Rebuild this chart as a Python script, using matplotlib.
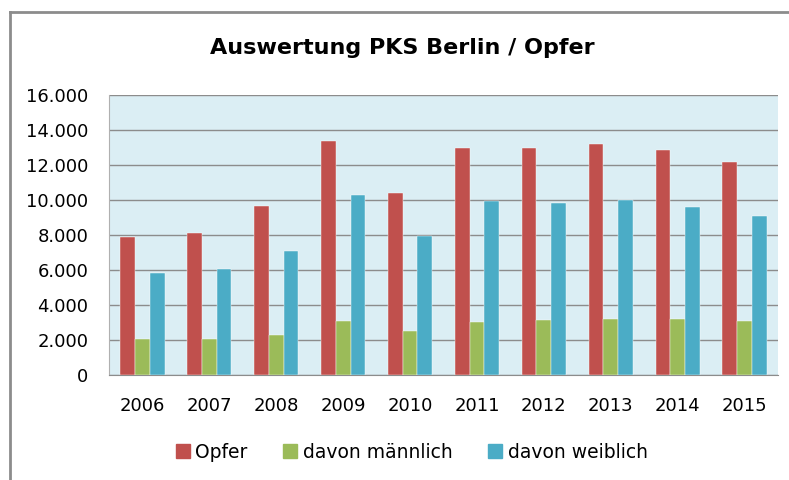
import numpy as np
import matplotlib
matplotlib.use("Agg")
import matplotlib.pyplot as plt
from matplotlib.ticker import FuncFormatter
from matplotlib.patches import Rectangle
from matplotlib.lines import Line2D

# data
years = ["2006", "2007", "2008", "2009", "2010", "2011", "2012", "2013", "2014", "2015"]
opfer = [7870, 8100, 9680, 13350, 10400, 12950, 12950, 13200, 12840, 12170]
maennlich = [2060, 2080, 2300, 3100, 2490, 3030, 3160, 3220, 3220, 3100]
weiblich = [5810, 6040, 7090, 10290, 7920, 9920, 9810, 10020, 9620, 9090]

series_names = ["Opfer", "davon männlich", "davon weiblich"]
colors = ["#C0504D", "#9BBB59", "#4BACC6"]

plt.rcParams['font.family'] = ['DejaVu Sans']

fig = plt.figure(figsize=(7.89, 4.8), dpi=100)
ax = fig.add_axes([109 / 789, 105 / 480, 669 / 789, 280 / 480])

x = np.arange(len(years))
w = 0.22
for i, (vals, name, col) in enumerate(zip([opfer, maennlich, weiblich], series_names, colors)):
    ax.bar(x + (i - 1) * w, vals, width=w, color=col, label=name, zorder=3,
           edgecolor="white", linewidth=0.3)

ax.set_facecolor("#DBEEF4")
ax.set_xlim(-0.5, len(years) - 0.5)
ax.set_ylim(0, 16000)
ax.set_yticks(np.arange(0, 16001, 2000))
ax.yaxis.set_major_formatter(FuncFormatter(lambda v, p: f"{int(v):,}".replace(",", ".")))
ax.set_xticks(x)
ax.set_xticklabels(years)
ax.grid(axis="y", color="#8C8C8C", linewidth=1.0, zorder=1)
ax.tick_params(length=0, labelsize=13)
ax.tick_params(axis="y", pad=15)
ax.tick_params(axis="x", pad=16)

for s in ["top", "right"]:
    ax.spines[s].set_visible(False)
ax.spines["left"].set_color("#B0B0B0")
ax.spines["bottom"].set_color("#8C8C8C")

fig.text(0.51, 0.9, "Auswertung PKS Berlin / Opfer", ha="center", va="center",
         fontsize=16, fontweight="bold")

handles = [Rectangle((0, 0), 1, 1, color=c) for c in colors]
fig.legend(handles, series_names, loc="center", bbox_to_anchor=(0.522, 0.058),
           ncol=3, frameon=False, fontsize=13.5, handlelength=0.75, handleheight=0.75,
           handletextpad=0.3, columnspacing=1.9)

# outer chart border (left and top edges visible)
fig.add_artist(Line2D([9.5 / 789, 9.5 / 789], [0, 1 - 12 / 480], transform=fig.transFigure,
                      color="#8C8C8C", linewidth=2))
fig.add_artist(Line2D([9.5 / 789, 1], [1 - 12 / 480, 1 - 12 / 480], transform=fig.transFigure,
                      color="#8C8C8C", linewidth=2))

fig.savefig("out.png", dpi=100, facecolor="white")
